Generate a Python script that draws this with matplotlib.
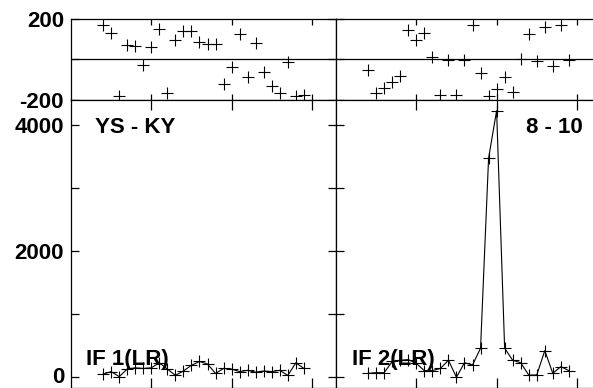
import numpy as np
import matplotlib
matplotlib.use("Agg")
import matplotlib.pyplot as plt
import matplotlib.transforms as mtransforms

# channel numbers and data
channels = np.arange(4, 30)

phase_if1 = [172, 130, -183, 72, 67, -28, 60, 150, -169, 97, 142, 143, 88,
             77, 77, -123, -39, 125, -86, 80, -61, -133, -169, -12, -181, -178]
phase_if2 = [-53, -169, -144, -111, -81, 147, 97, 133, 14, -178, -3, -178, -3,
             172, -70, -183, -149, -86, -161, 2, 127, -8, 163, -33, 172, -3]

amp_if1 = [50, 90, 10, 130, 150, 140, 150, 230, 130, 30, 100, 190, 250,
           210, 60, 140, 130, 90, 110, 80, 100, 90, 110, 30, 230, 140]
amp_if2 = [63, 73, 73, 250, 270, 280, 220, 105, 105, 140, 270, 0, 230,
           195, 460, 3470, 4225, 460, 270, 230, 36, 36, 422, 63, 169, 105]

baseline_label = "YS - KY"
time_label = "8 - 10"
if_labels = ["IF 1(LR)", "IF 2(LR)"]

plt.rcParams["font.family"] = ["Liberation Sans", "DejaVu Sans"]
plt.rcParams["font.weight"] = "bold"

W, H = 593, 388
fig = plt.figure(figsize=(W / 100, H / 100), dpi=100)

x0 = [71 / W, 336 / W]
pw = 265 / W
ph_bot = 1 - 99.5 / H
ph_h = 80.2 / H
amp_h = ph_bot

FS = 16


def style(ax, xlen, ylen):
    for s in ax.spines.values():
        s.set_linewidth(0.9)
    ax.tick_params(direction="in", top=True, right=True, width=0.9,
                   labelsize=FS, pad=5)
    ax.tick_params(axis="x", length=xlen, labelbottom=False)
    ax.tick_params(axis="y", length=ylen)


for i in range(2):
    # phase panel
    axp = fig.add_axes([x0[i], ph_bot, pw, ph_h])
    phase = phase_if1 if i == 0 else phase_if2
    axp.plot(channels, phase, linestyle="None", marker="+", color="black",
             markersize=9, markeredgewidth=0.8)
    axp.axhline(0, color="black", linewidth=0.9)
    axp.set_xlim(0, 33)
    axp.set_ylim(-200, 200)
    axp.set_xticks([10, 20, 30])
    axp.set_yticks([-200, 0, 200])
    axp.set_yticklabels(["-200", "", "200"])
    style(axp, 4, 6)
    if i == 1:
        axp.tick_params(labelleft=False)

    # amplitude panel
    axa = fig.add_axes([x0[i], 0, pw, amp_h])
    amp = amp_if1 if i == 0 else amp_if2
    axa.plot(channels, amp, color="black", linewidth=0.8, marker="+",
             markersize=9, markeredgewidth=0.8)
    axa.set_xlim(0, 33)
    axa.set_ylim(-170, 4402)
    axa.set_xticks([10, 20, 30])
    axa.set_yticks([0, 1000, 2000, 3000, 4000])
    axa.set_yticklabels(["0", "", "2000", "", "4000"])
    style(axa, 7, 6)
    if i == 1:
        axa.tick_params(labelleft=False)
    else:
        # keep the "0" label inside the picture
        lab0 = axa.get_yticklabels()[0]
        lab0.set_transform(lab0.get_transform() +
                           mtransforms.ScaledTranslation(0, 2 / 100, fig.dpi_scale_trans))

    axa.text(15 / 265 + (0.003 if i == 1 else 0), 0.08, if_labels[i],
             transform=axa.transAxes, fontsize=FS, fontweight="bold",
             ha="left", va="baseline")
    if i == 0:
        axa.text(0.09, 0.883, baseline_label, transform=axa.transAxes,
                 fontsize=FS, fontweight="bold", ha="left", va="baseline")
    else:
        axa.text(0.932, 0.883, time_label, transform=axa.transAxes,
                 fontsize=FS, fontweight="bold", ha="right", va="baseline")

fig.savefig("out.png", dpi=100)
